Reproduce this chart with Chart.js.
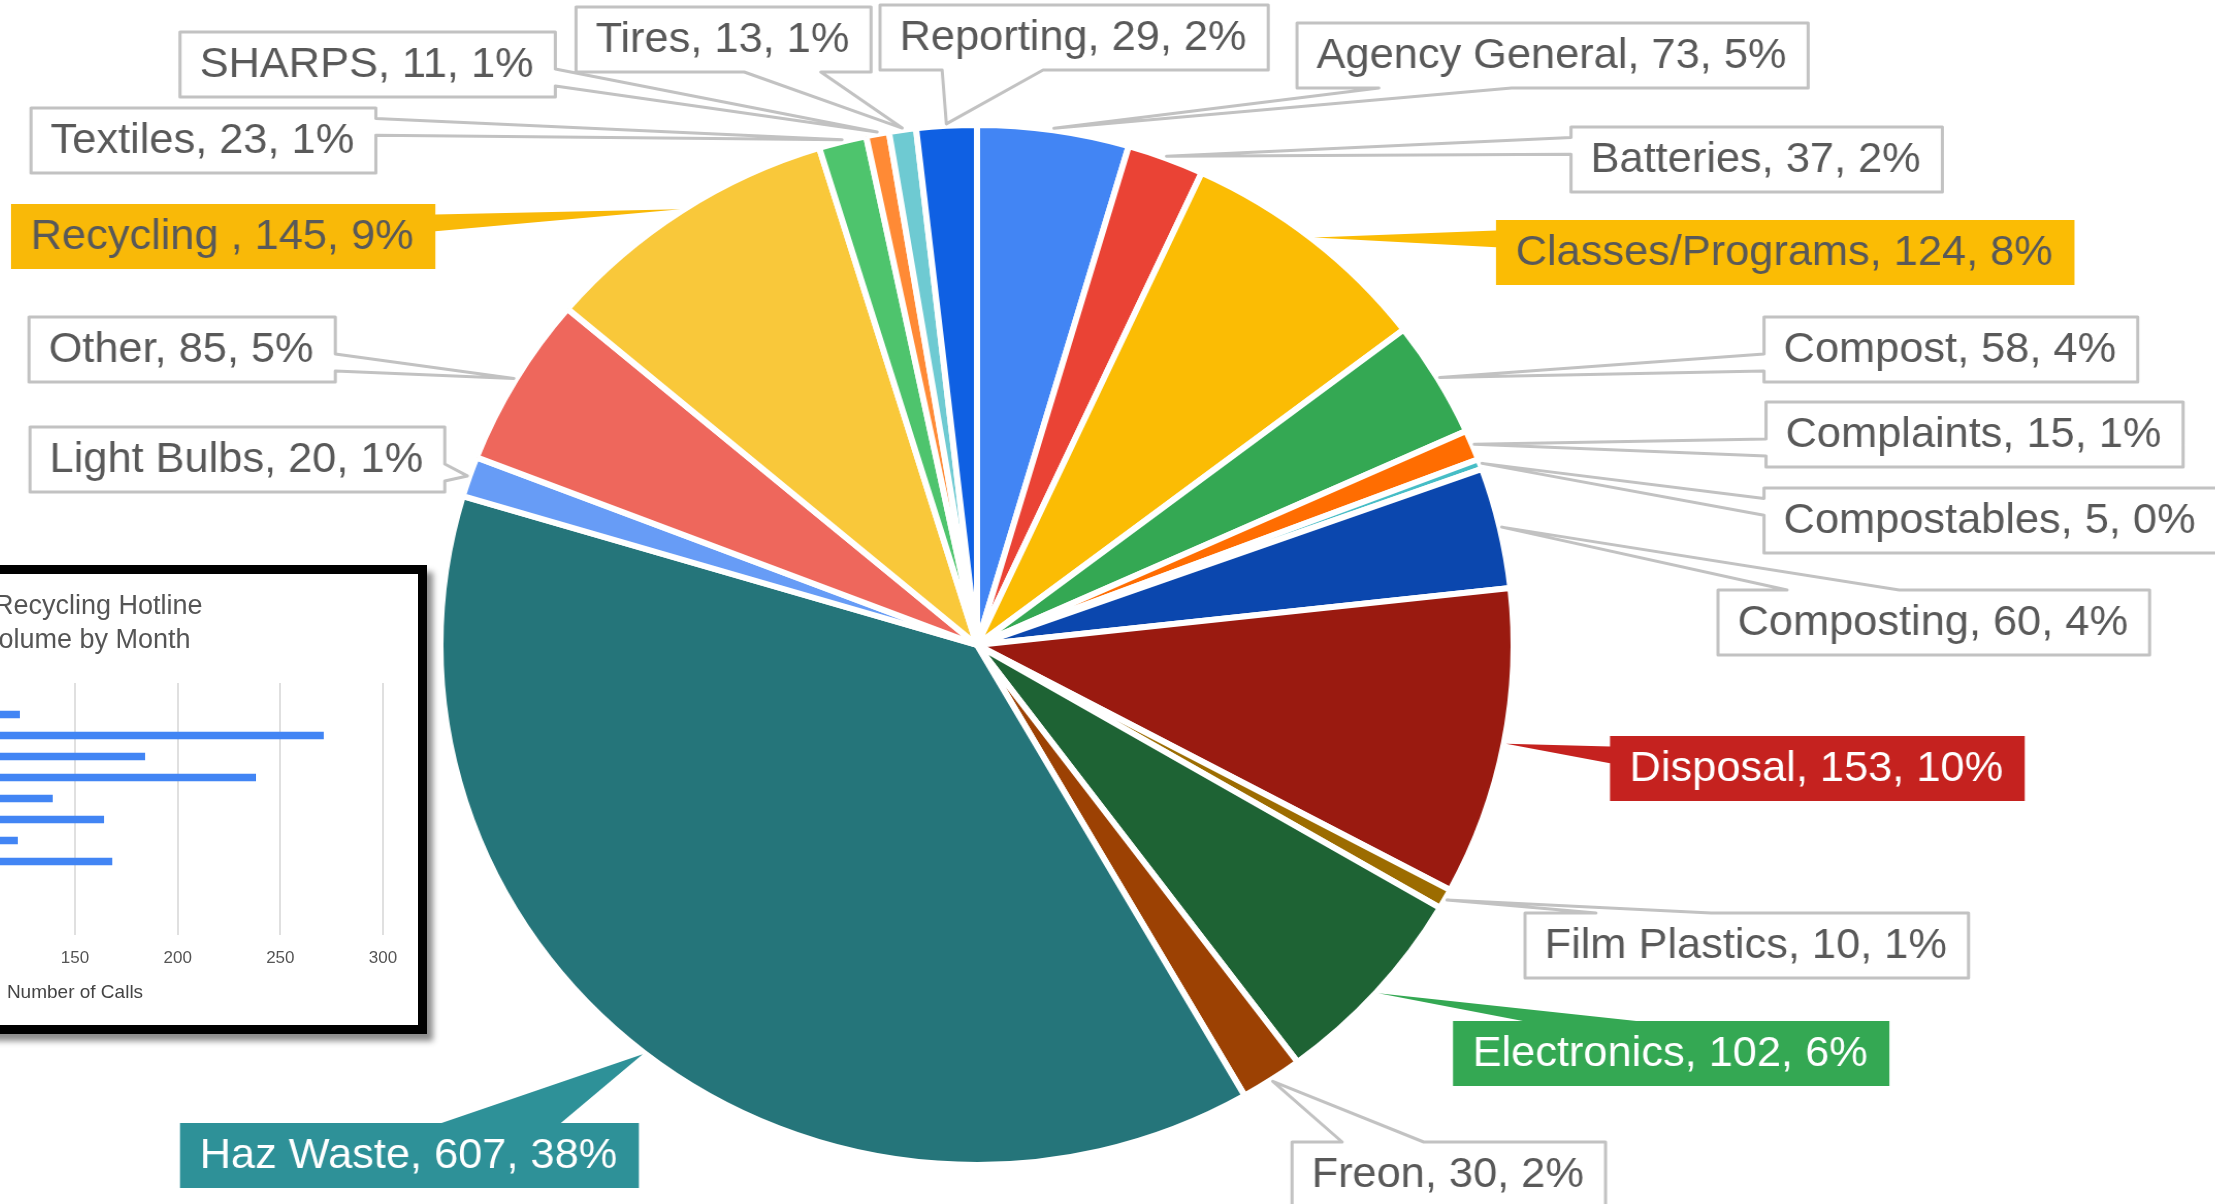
<!DOCTYPE html>
<html>
<head>
<meta charset="utf-8">
<script src="https://cdn.jsdelivr.net/npm/chart.js@4.4.1/dist/chart.umd.min.js"></script>
<style>
  html, body { margin: 0; padding: 0; background: #fff; overflow: hidden; }
  /* the reference pie is a little wider than it is tall */
  #pie { position: absolute; left: 0; top: 0; transform: scaleX(1.032); transform-origin: 977px 0; }
  #inset { position: absolute; left: -340px; top: 565px; width: 749px; height: 451px;
           border: 9px solid #000; background: #fff; box-shadow: 6px 7px 6px rgba(0,0,0,0.45); }
  #inset canvas { position: absolute; left: 0; top: 0; }
  .inset-title { position: absolute; font: 27px "Liberation Sans", Arial, sans-serif; line-height: 27px;
                 color: #555; white-space: nowrap; }
</style>
</head>
<body>
<canvas id="pie" width="2215" height="1204"></canvas>
<div id="inset">
  <canvas id="bars" width="749" height="451"></canvas>
  <div class="inset-title" style="left:325px; top:18px">Recycling Hotline</div>
  <div class="inset-title" style="left:313px; top:52px">Volume by Month</div>
</div>
<script>
const categories = ['Agency General', 'Batteries', 'Classes/Programs', 'Compost', 'Complaints',
  'Compostables', 'Composting', 'Disposal', 'Film Plastics', 'Electronics', 'Freon',
  'Haz Waste', 'Light Bulbs', 'Other', 'Recycling ', 'Textiles', 'SHARPS', 'Tires', 'Reporting'];
const calls = [73, 37, 124, 58, 15, 5, 60, 153, 10, 102, 30, 607, 20, 85, 145, 23, 11, 13, 29];
const sliceColors = ['#4285f4', '#ea4335', '#fbbc04', '#34a853', '#ff6d01',
  '#46bdc6', '#0b47ae', '#9a1a10', '#9c6c00', '#1e6334', '#9c4103',
  '#25757a', '#679cf6', '#ee675c', '#f9c83a', '#4ec46d', '#ff8a35', '#6ecad2', '#0f60e3'];

const months = ['Jan', 'Feb', 'Mar', 'Apr', 'May', 'Jun', 'Jul', 'Aug', 'Sep', 'Oct', 'Nov', 'Dec'];
const monthlyCalls = [null, 123, 271, 184, 238, 139, 164, 122, 168, null, null, null];

// callout boxes: left, top (page px), edge the pointer leaves from, fill, text colour
const callouts = [
  [1297, 23, 'b'],
  [1571, 127, 'l'],
  [1496, 220, 'l', '#fbbc04'],
  [1764, 317, 'l'],
  [1766, 402, 'l'],
  [1764, 488, 'l'],
  [1718, 590, 't'],
  [1610, 736, 'l', '#c5221f', '#fff'],
  [1525, 913, 't'],
  [1453, 1021, 't', '#34a853', '#fff'],
  [1292, 1142, 't'],
  [180, 1123, 't', '#2e9198', '#fff'],
  [30, 427, 'r'],
  [29, 317, 'r'],
  [11, 204, 'r', '#f9b908'],
  [31, 108, 'r'],
  [180, 32, 'r'],
  [576, 7, 'b'],
  [880, 5, 'b']
];

const SX = 1.032, CX = 977;
const toCanvasX = px => CX + (px - CX) / SX;
const FONT = '"Liberation Sans", Arial, sans-serif';

function calloutPath(ctx, b, side, tip) {
  const along = (side === 'l' || side === 'r') ? (tip.y - b.y) / b.h : (tip.x - b.x) / b.w;
  const [f0, f1] = along >= 0.5 ? [0.57, 0.83] : [0.16, 0.42];
  const r = b.x + b.w, bt = b.y + b.h;
  ctx.beginPath();
  ctx.moveTo(b.x, b.y);
  if (side === 't') { ctx.lineTo(b.x + b.w * f0, b.y); ctx.lineTo(tip.x, tip.y); ctx.lineTo(b.x + b.w * f1, b.y); }
  ctx.lineTo(r, b.y);
  if (side === 'r') { ctx.lineTo(r, b.y + b.h * f0); ctx.lineTo(tip.x, tip.y); ctx.lineTo(r, b.y + b.h * f1); }
  ctx.lineTo(r, bt);
  if (side === 'b') { ctx.lineTo(b.x + b.w * f1, bt); ctx.lineTo(tip.x, tip.y); ctx.lineTo(b.x + b.w * f0, bt); }
  ctx.lineTo(b.x, bt);
  if (side === 'l') { ctx.lineTo(b.x, b.y + b.h * f1); ctx.lineTo(tip.x, tip.y); ctx.lineTo(b.x, b.y + b.h * f0); }
  ctx.closePath();
}

const calloutPlugin = {
  id: 'callouts',
  afterDraw(chart) {
    const ctx = chart.ctx;
    const arcs = chart.getDatasetMeta(0).data;
    const total = calls.reduce((a, b) => a + b, 0);
    ctx.save();
    ctx.font = '42px ' + FONT;
    ctx.textBaseline = 'middle';
    ctx.lineJoin = 'round';
    callouts.forEach(([left, top, side, fill, ink], i) => {
      const a = arcs[i].getProps(['x', 'y', 'startAngle', 'endAngle', 'outerRadius'], true);
      const mid = (a.startAngle + a.endAngle) / 2;
      const tip = { x: a.x + Math.cos(mid) * (a.outerRadius + 2), y: a.y + Math.sin(mid) * (a.outerRadius + 2) };
      const text = `${categories[i]}, ${calls[i]}, ${Math.round(calls[i] / total * 100)}%`;
      const box = { x: toCanvasX(left), y: top, w: ctx.measureText(text).width + 40, h: 65 };
      calloutPath(ctx, box, side, tip);
      ctx.fillStyle = fill || '#fff';
      ctx.fill();
      if (!fill) {
        ctx.strokeStyle = '#c2c2c2';
        ctx.lineWidth = 3;
        ctx.stroke();
      }
      ctx.fillStyle = ink || '#595959';
      ctx.fillText(text, box.x + 19, box.y + box.h / 2 + 1);
    });
    ctx.restore();
  }
};

new Chart(document.getElementById('pie'), {
  type: 'pie',
  data: {
    labels: categories,
    datasets: [{ data: calls, backgroundColor: sliceColors, borderColor: '#fff', borderWidth: 6 }]
  },
  options: {
    responsive: false,
    animation: false,
    events: [],
    radius: 520,
    layout: { padding: { left: 457, right: 718, top: 125, bottom: 39 } },
    plugins: { legend: { display: false }, tooltip: { enabled: false } }
  },
  plugins: [calloutPlugin]
});

new Chart(document.getElementById('bars'), {
  type: 'bar',
  data: {
    labels: months,
    datasets: [{ label: 'Number of Calls', data: monthlyCalls, backgroundColor: '#4285f4', barThickness: 7 }]
  },
  options: {
    indexAxis: 'y',
    responsive: false,
    animation: false,
    events: [],
    layout: { padding: { top: 109, right: 35 } },
    plugins: { legend: { display: false }, tooltip: { enabled: false } },
    scales: {
      x: {
        min: 0,
        max: 300,
        ticks: { stepSize: 50, color: '#555', font: { family: FONT, size: 17 }, padding: 13 },
        grid: { color: '#e0e0e0', lineWidth: 2, drawTicks: false },
        border: { display: false },
        title: { display: true, text: 'Number of Calls', color: '#444',
                 font: { family: FONT, size: 19 }, padding: { top: 0, bottom: 21 } },
        afterFit: s => { s.height = 90; }
      },
      y: {
        ticks: { color: '#555', font: { family: FONT, size: 17 } },
        grid: { display: false },
        border: { display: false },
        afterFit: s => { s.width = 98; }
      }
    }
  }
});
</script>
</body>
</html>
